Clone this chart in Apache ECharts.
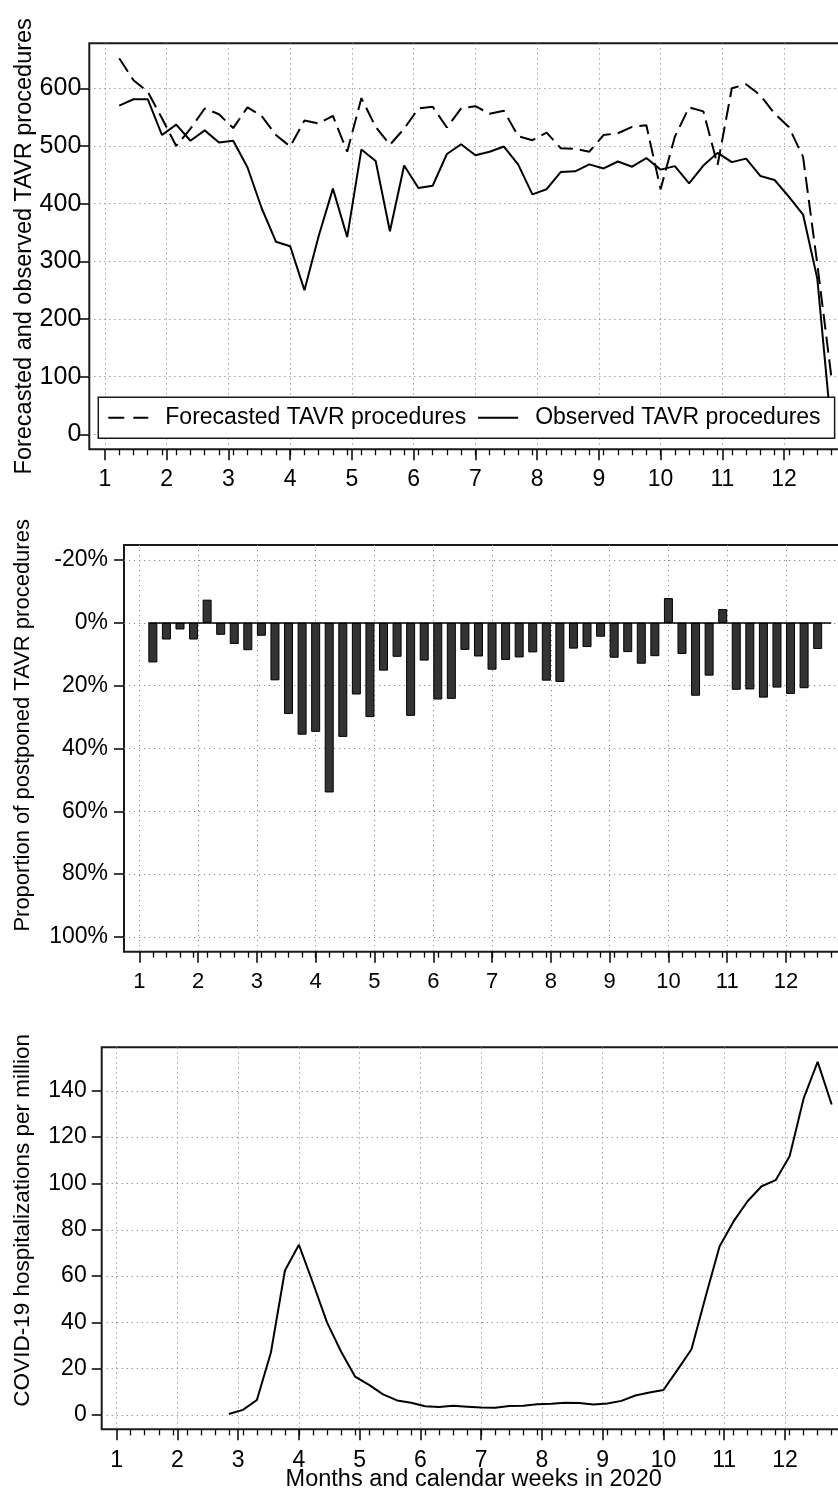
<!DOCTYPE html>
<html>
<head>
<meta charset="utf-8">
<script src="https://cdn.jsdelivr.net/npm/echarts@6/dist/echarts.min.js"></script>
<style>
html,body{margin:0;padding:0;background:#fff;}
#chart{width:838px;height:1493px;}
</style>
</head>
<body>
<div id="chart"></div>
<script>
// ---- data ----
const weeks = [1,2,3,4,5,6,7,8,9,10,11,12,13,14,15,16,17,18,19,20,21,22,23,24,25,26,27,28,29,30,31,32,33,34,35,36,37,38,39,40,41,42,43,44,45,46,47,48,49,50,51];
const monthTicks = [1,2,3,4,5,6,7,8,9,10,11,12];
const forecasted = [652,614,594,548,500,530,565,555,531,567,552,519,499,544,539,552,490,583,533,502,530,565,568,532,565,569,556,561,517,510,523,496,495,490,519,522,533,536,425,516,567,560,467,600,607,588,556,533,481,295,97];
const observed = [570,581,581,519,537,509,527,506,509,463,392,334,326,250,344,426,342,494,474,352,466,427,431,486,503,484,490,499,468,416,425,455,456,468,461,473,464,479,459,465,435,466,488,472,478,448,441,412,381,270,5];
const postponed = [12.6,5.3,2.1,5.3,-7.4,3.8,6.7,8.7,4.1,18.3,29.0,35.6,34.7,54.0,36.3,22.8,30.0,15.2,10.8,29.6,12.0,24.4,24.2,8.6,10.7,14.9,11.8,11.0,9.4,18.4,18.8,8.2,7.7,4.4,11.1,9.3,13.0,10.6,-7.9,9.9,23.2,16.8,-4.4,21.3,21.2,23.8,20.6,22.6,20.8,8.3];
const covid = [null,null,null,null,null,null,null,0.4,2.2,6.5,27,62.4,73.5,57,40,27.4,16.6,13,8.9,6.3,5.3,3.8,3.5,4.0,3.6,3.2,3.1,3.9,4.0,4.6,4.9,5.3,5.2,4.5,5.0,6.1,8.4,9.7,10.8,19.5,28.4,51,72.8,83.6,92.3,98.8,101.4,111.7,136.7,152.5,134.1];
const ticks1 = [0,100,200,300,400,500,600];
const ticks2 = [-20,0,20,40,60,80,100];
const ticks3 = [0,20,40,60,80,100,120,140];

// week number -> position on the month axis
const wk = w => 1 + w * 12 / 52;
const weekPos = weeks.map(wk);
const pair = (arr) => arr.map((v, i) => [weekPos[i], v]);

const FONT = 'Liberation Sans, Arial, sans-serif';
const gridLine = {show: true, lineStyle: {color: '#8a8a8a', width: 1, type: [1.2, 3.8]}};

function mainX(gi, min, fs, margin, extra) {
  return Object.assign({
    type: 'value', gridIndex: gi, min: min, max: 13, position: 'bottom',
    axisLine: {show: false, onZero: false},
    axisTick: {show: true, length: 11, customValues: monthTicks, lineStyle: {color: '#000', width: 1.5}},
    axisLabel: {show: true, customValues: monthTicks, margin: margin, fontSize: fs, fontFamily: FONT, color: '#000'},
    splitLine: gridLine
  }, extra || {});
}
function minorX(gi, min) {
  return {
    type: 'value', gridIndex: gi, min: min, max: 13, position: 'bottom',
    axisLine: {show: false, onZero: false},
    axisTick: {show: true, length: 6, customValues: weekPos, lineStyle: {color: '#000', width: 1.3}},
    axisLabel: {show: false},
    splitLine: {show: false}
  };
}
function yAx(gi, min, max, ticks, fs, margin, name, nameGap, namePad, nameFs, extra) {
  return Object.assign({
    type: 'value', gridIndex: gi, min: min, max: max,
    axisLine: {show: false, onZero: false},
    axisTick: {show: true, length: 10, customValues: ticks, lineStyle: {color: '#000', width: 1.5}},
    axisLabel: {show: true, customValues: ticks, margin: margin, fontSize: fs, fontFamily: FONT, color: '#000'},
    splitLine: gridLine,
    name: name, nameLocation: 'middle', nameGap: nameGap, nameRotate: 90, nameMoveOverlap: false,
    nameTextStyle: {fontSize: nameFs, fontFamily: FONT, color: '#000', padding: namePad}
  }, extra || {});
}

const gridStyle = {show: true, borderColor: '#1a1a1a', borderWidth: 2, backgroundColor: '#fff', containLabel: false, outerBoundsMode: 'none'};

const option = {
  animation: false,
  backgroundColor: '#fff',
  grid: [
    Object.assign({left: 89.3, top: 43.3, width: 756.5, height: 406}, gridStyle),
    Object.assign({left: 124, top: 545, width: 720.8, height: 406.7}, gridStyle),
    Object.assign({left: 101.7, top: 1047.3, width: 744, height: 382}, gridStyle)
  ],
  xAxis: [
    mainX(0, 0.746, 23, 19),
    minorX(0, 0.746),
    mainX(1, 0.74, 22, 19),
    minorX(1, 0.74),
    mainX(2, 0.753, 23, 20, {
      name: 'Months and calendar weeks in 2020', nameLocation: 'middle', nameGap: 38, nameMoveOverlap: false,
      nameTextStyle: {fontSize: 23.5, fontFamily: FONT, color: '#000'}
    }),
    minorX(2, 0.753)
  ],
  yAxis: [
    yAx(0, -26, 678, ticks1, 25, 8, 'Forecasted and observed TAVR procedures', 53, [0,0,0,0], 23.5),
    yAx(1, -24.8, 104.7, ticks2, 23, 16, 'Proportion of postponed TAVR procedures', 90, [0,0,0,46], 22, {
      inverse: true,
      axisLabel: {show: true, customValues: ticks2, margin: 16, fontSize: 23, fontFamily: FONT, color: '#000', formatter: v => v + '%'}
    }),
    yAx(2, -6.18, 158.8, ticks3, 23, 15, 'COVID-19 hospitalizations per million', 67, [0,0,0,36], 22.5)
  ],
  legend: {
    left: 98.3, top: 397.3, orient: 'horizontal',
    itemWidth: 40, itemHeight: 2, itemGap: 12,
    padding: [9, 14, 9, 10],
    borderColor: '#1a1a1a', borderWidth: 1.5, backgroundColor: '#fff',
    textStyle: {fontSize: 23, fontFamily: FONT, color: '#000', padding: [0, 0, 0, 12]},
    data: [
      {name: 'Forecasted TAVR procedures', icon: 'path://M0,0 H16 V2 H0 Z M25,0 H40 V2 H25 Z'},
      {name: 'Observed TAVR procedures', icon: 'path://M0,0 H40 V2 H0 Z'}
    ]
  },
  series: [
    {
      name: 'Forecasted TAVR procedures', type: 'line', xAxisIndex: 0, yAxisIndex: 0,
      data: pair(forecasted), symbol: 'none', showSymbol: false,
      lineStyle: {color: '#000', width: 2, type: [16, 7]}, itemStyle: {color: '#000'}
    },
    {
      name: 'Observed TAVR procedures', type: 'line', xAxisIndex: 0, yAxisIndex: 0,
      data: pair(observed), symbol: 'none', showSymbol: false,
      lineStyle: {color: '#000', width: 2}, itemStyle: {color: '#000'}
    },
    {
      name: 'Postponed', type: 'bar', xAxisIndex: 2, yAxisIndex: 1,
      data: pair(postponed), barWidth: 9,
      itemStyle: {color: '#333333', borderColor: '#000', borderWidth: 1},
      markLine: {
        silent: true, symbol: 'none', label: {show: false},
        lineStyle: {color: '#000', width: 1.5, type: 'solid'},
        data: [[{coord: [weekPos[0] - 0.077, 0]}, {coord: [weekPos[weekPos.length - 1], 0]}]]
      }
    },
    {
      name: 'COVID', type: 'line', xAxisIndex: 4, yAxisIndex: 2,
      data: pair(covid), symbol: 'none', showSymbol: false, connectNulls: false,
      lineStyle: {color: '#000', width: 2}, itemStyle: {color: '#000'}
    }
  ]
};

const chart = echarts.init(document.getElementById('chart'), null, {renderer: 'canvas'});
chart.setOption(option);
</script>
</body>
</html>
